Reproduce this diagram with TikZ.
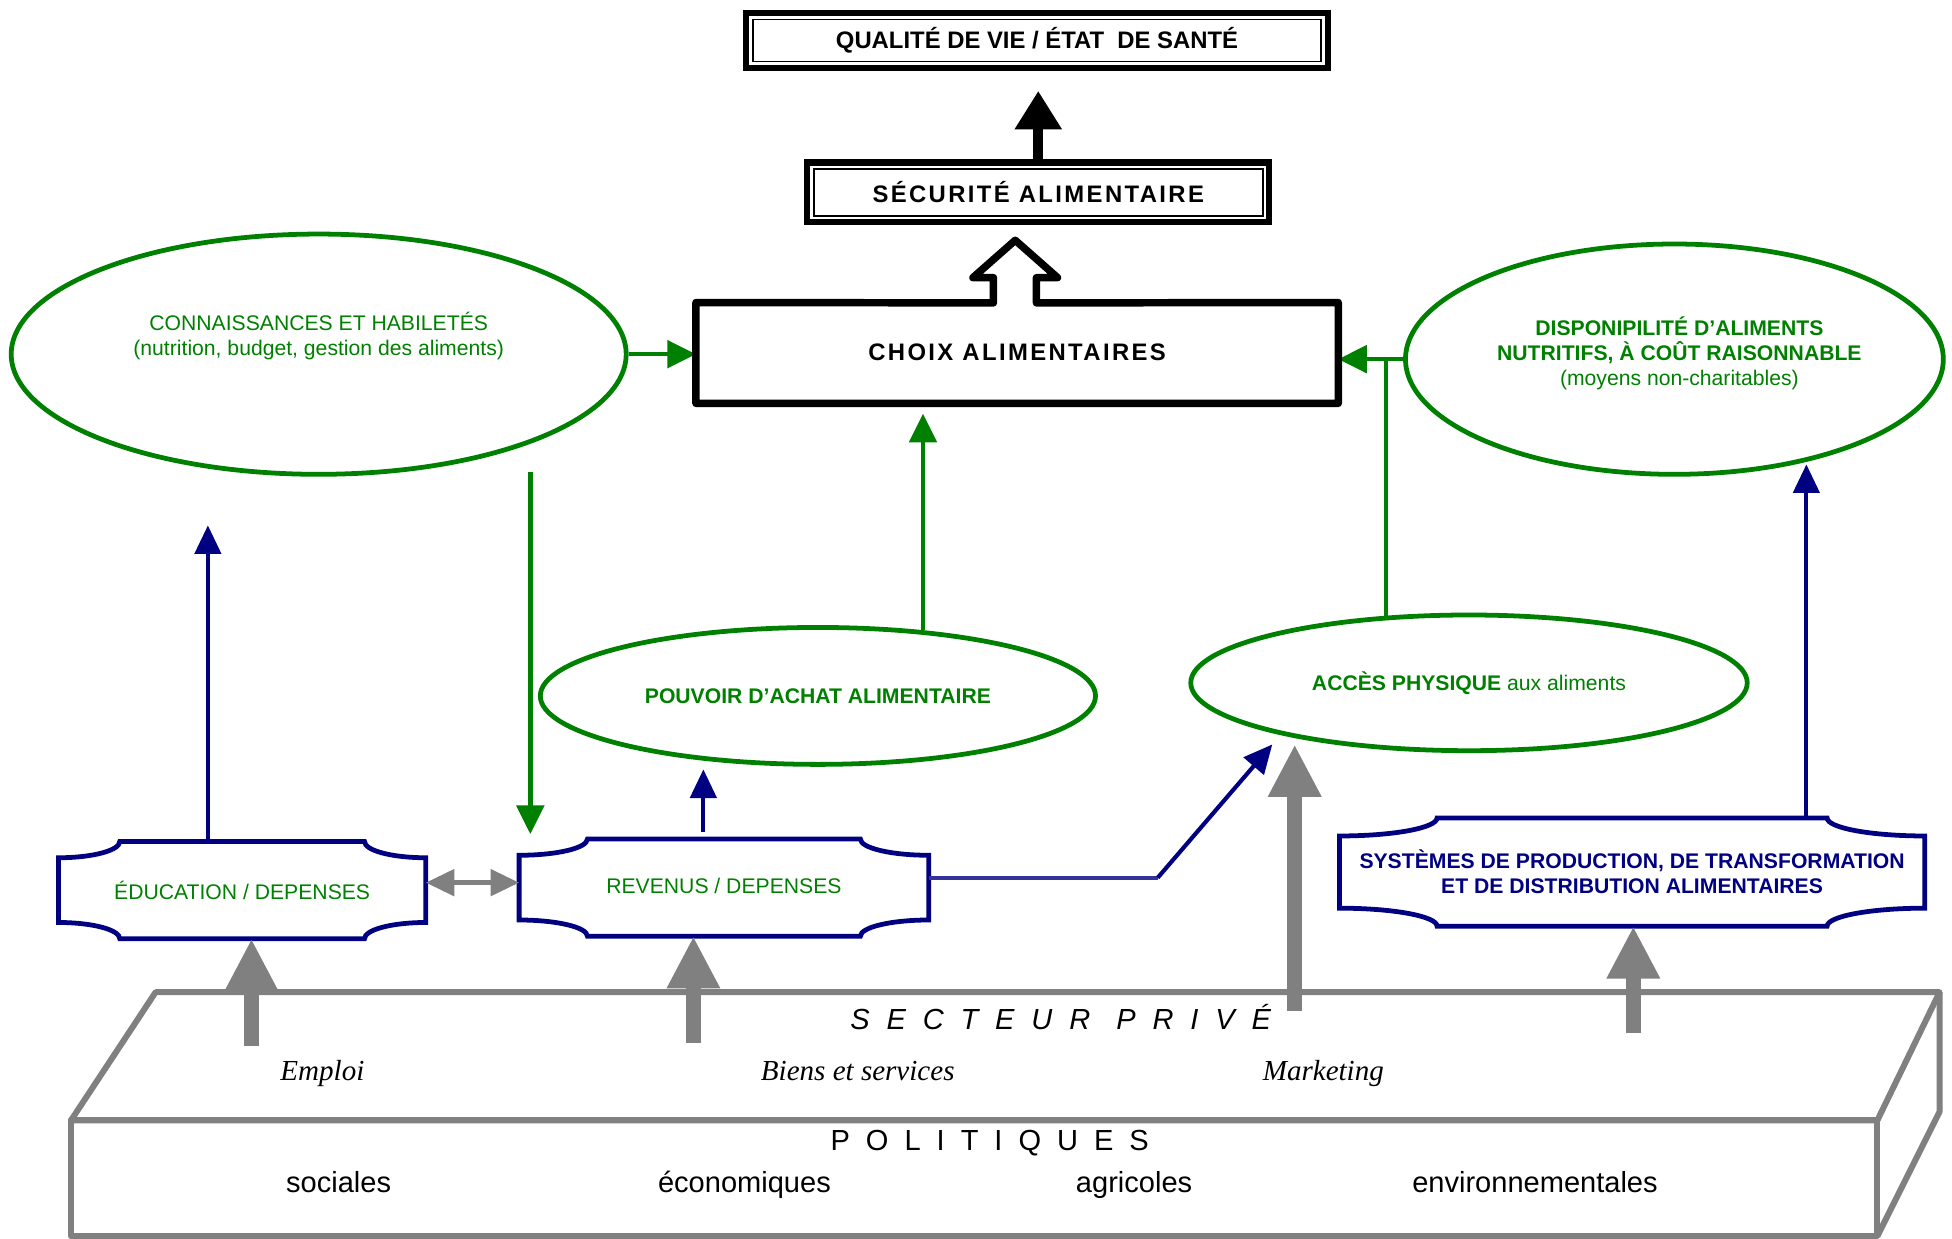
\documentclass[tikz,border=0pt]{standalone}
\usepackage{fontspec}
\setmainfont{Liberation Sans}
\newfontfamily\timesfont{Liberation Serif}
\usetikzlibrary{arrows.meta,shapes.geometric,calc}

\definecolor{fgreen}{HTML}{008000}
\definecolor{fnavy}{HTML}{000080}
\definecolor{fgray}{HTML}{808080}
\definecolor{flink}{HTML}{333399}

\tikzset{
  framebox/.style={draw,line width=3pt,inner sep=0pt,font=\fontsize{11.5}{13}\selectfont\bfseries},
  oval/.style={ellipse,draw=fgreen,line width=2.3pt,inner sep=0pt,text=fgreen,font=\fontsize{10.2}{12}\selectfont},
  ovaltext/.style={text=fgreen,align=center,font=\fontsize{10.2}{12}\selectfont},
  plaquebox/.style={inner sep=0pt,outer sep=0pt,align=center,font=\fontsize{10.2}{12}\selectfont},
  greenarrow/.style={draw=fgreen,line width=2.1pt,-{Triangle[width=13.2pt,length=13.8pt]}},
  navyarrow/.style={draw=fnavy,line width=2pt,-{Triangle[width=12.6pt,length=13.8pt]}},
  grayarrow/.style={draw=fgray,line width=7.2pt,-{Triangle[width=24pt,length=25.2pt]}},
  slab/.style={draw=fgray,line width=2.9pt,line join=round},
  slabtext/.style={font=\fontsize{14}{16}\selectfont,text height=10pt,text depth=3pt},
  slabitalic/.style={font=\timesfont\itshape\fontsize{14}{16}\selectfont,text height=10pt,text depth=3pt},
}

\newcommand\plaque[1]{%
  \draw[draw=fnavy,line width=2.3pt] let \p1=(#1.south west), \p2=(#1.north east),
    \n1={(\x2-\x1)/6}, \n2={(\y2-\y1)/6} in
    (\x1,\y2-\n2) arc[start angle=-90,end angle=0,x radius=\n1,y radius=\n2]
    -- (\x2-\n1,\y2) arc[start angle=180,end angle=270,x radius=\n1,y radius=\n2]
    -- (\x2,\y1+\n2) arc[start angle=90,end angle=180,x radius=\n1,y radius=\n2]
    -- (\x1+\n1,\y1) arc[start angle=0,end angle=90,x radius=\n1,y radius=\n2]
    -- cycle;}
\newcommand\innerframe[1]{%
  \draw[line width=0.8pt] ([shift={(4.6pt,-4.6pt)}]#1.north west) rectangle ([shift={(-4.6pt,4.6pt)}]#1.south east);}

\begin{document}
\begin{tikzpicture}[x=0.6pt,y=-0.6pt]
\useasboundingbox (0,0) rectangle (1568,995);

\draw[slab] (125,797) -- (1558,797) -- (1508,900) -- (57,900) -- cycle;
\draw[slab] (57,900) rectangle (1508,993);
\draw[slab] (1558,797) -- (1558,893) -- (1508,993);
\node[slabtext,font=\fontsize{14}{16}\selectfont\itshape\addfontfeature{LetterSpace=58}] (prive) at (852,821) {SECTEUR\hspace{0.9em}PRIVÉ};
\node[slabitalic] (emploi) at (259,862) {Emploi};
\node[slabitalic] (biens) at (689,862) {Biens et services};
\node[slabitalic] (market) at (1063,862) {Marketing};
\node[slabtext,font=\fontsize{14}{16}\selectfont\addfontfeature{LetterSpace=55}] (polit) at (795,918) {POLITIQUES};
\node[slabtext] (soc) at (272,952) {sociales};
\node[slabtext] (eco) at (598,952) {économiques};
\node[slabtext] (agri) at (911,952) {agricoles};
\node[slabtext] (env) at (1233,952) {environnementales};

\node[framebox,minimum width=280.2pt,minimum height=26.4pt] (qual) at (833,32.5) {\raisebox{-1.2pt}{QUALITÉ DE VIE / ÉTAT \ DE SANTÉ}};
\innerframe{qual}
\node[framebox,minimum width=222.6pt,minimum height=28.8pt] (secu) at (834,154.5) {\addfontfeature{LetterSpace=10}SÉCURITÉ ALIMENTAIRE};
\innerframe{secu}
\draw[line width=4.8pt,-{Triangle[width=21.6pt,length=18.6pt]},shorten >=9.6pt] (secu.north) -- (secu.north |- qual.south);

\node[oval,minimum width=296.4pt,minimum height=115.8pt] (knowl) at (256,284.5) {};
\node[ovaltext] (knowltxt) at (256,270) {CONNAISSANCES ET HABILETÉS\\(nutrition, budget, gestion des aliments)};
\node[oval,minimum width=259.2pt,minimum height=111pt] (disp) at (1345,288.5) {};
\node[ovaltext] (disptxt) at (1349,284) {\textbf{DISPONIPILITÉ D’ALIMENTS}\\\textbf{NUTRITIFS, À COÛT RAISONNABLE}\\(moyens non-charitables)};
\node[oval,minimum width=267.6pt,minimum height=66pt] (pouv) at (657,559) {\textbf{POUVOIR D’ACHAT ALIMENTAIRE}};
\node[oval,minimum width=268.2pt,minimum height=65.4pt] (acces) at (1180,548.5) {\textbf{ACCÈS PHYSIQUE} aux aliments};

\node[plaquebox,text=fgreen,minimum width=177pt,minimum height=46.8pt] (educ) at (194.5,715) {\raisebox{-3pt}{ÉDUCATION / DEPENSES}};
\node[plaquebox,text=fgreen,minimum width=197.4pt,minimum height=46.8pt] (reven) at (581.5,713) {\raisebox{2pt}{REVENUS / DEPENSES}};
\node[plaquebox,text=fnavy,font=\fontsize{10.2}{12}\selectfont\bfseries,minimum width=282pt,minimum height=52.2pt] (syst) at (1311,700.5) {SYSTÈMES DE PRODUCTION, DE TRANSFORMATION\\ET DE DISTRIBUTION ALIMENTAIRES};
\plaque{educ}
\plaque{reven}
\plaque{syst}

\coordinate (g1) at (202,840);
\coordinate (g2) at (557,838);
\coordinate (g3) at (1040,812);
\coordinate (g3tip) at (1040,598);
\coordinate (g4) at (1312,830);
\draw[grayarrow] (g1) -- (g1 |- educ.south);
\draw[grayarrow] (g2) -- (g2 |- reven.south);
\draw[grayarrow] (g3) -- (g3tip);
\draw[grayarrow] (g4) -- (g4 |- syst.south);
\draw[draw=fgray,line width=2.4pt,{Triangle[width=12.6pt,length=13.8pt]}-{Triangle[width=12.6pt,length=13.8pt]}] ($(educ.east)+(0,-6)$) -- ($(reven.west)+(0,-4)$);

\coordinate (eduTip) at (167,422);
\coordinate (revTip) at (565,618);
\coordinate (bend) at (930,705);
\coordinate (accTip) at (1022,598);
\coordinate (sysTip) at (1451,373);
\draw[navyarrow] (eduTip |- educ.north) -- (eduTip);
\draw[navyarrow] ($(revTip |- reven.north)+(0,-6)$) -- (revTip);
\draw[flink,line width=2pt] ($(reven.east)+(0,-8)$) -- (bend);
\draw[navyarrow] (bend) -- (accTip);
\draw[navyarrow] (sysTip |- syst.north) -- (sysTip);

\coordinate (knowlOut) at (426,379);
\draw[greenarrow,shorten >=2.4pt] (knowlOut) -- (knowlOut |- reven.north);
\draw[greenarrow] (knowl.east) -- (knowl.east -| 559,0);
\draw[greenarrow] (disp.west) -- (disp.west -| 1075,0);
\draw[fgreen,line width=2.1pt] (acces.141) -- (acces.141 |- disp.west);
\draw[greenarrow,shorten >=5pt] (pouv.32) -- (pouv.32 |- 0,324);

\node[inner sep=0pt,outer sep=0pt,minimum width=309.6pt,minimum height=48.6pt,font=\fontsize{11.5}{13}\selectfont\bfseries] (choix) at (817,283.5) {\raisebox{1.2pt}{\addfontfeature{LetterSpace=10}CHOIX ALIMENTAIRES}};
\draw[line width=3.6pt,line join=round] (choix.north west) -- (798,243.3) -- (798,223) -- (781.5,223) -- (815.5,193) -- (849.5,223) -- (832.5,223) -- (832.5,243.3) -- (choix.north east) -- (choix.south east) -- (choix.south west) -- cycle;
\end{tikzpicture}
\end{document}
